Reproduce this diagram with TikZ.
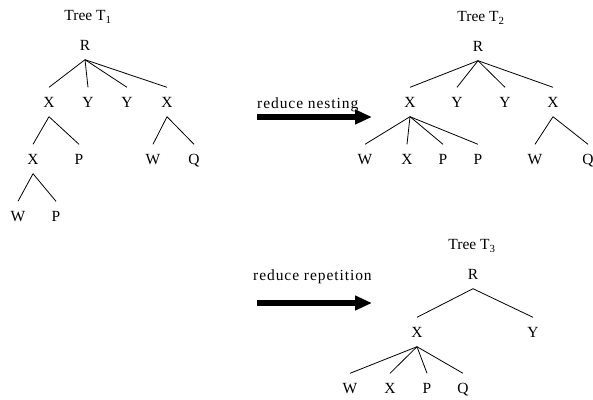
\documentclass[tikz,border=0pt]{standalone}
\usepackage{fontspec}
\setmainfont{Liberation Serif}
\usetikzlibrary{arrows.meta}

\begin{document}
\begin{tikzpicture}[
  x=1pt, y=-1pt,
  font=\fontsize{15.5}{18}\selectfont,
  lbl/.style={inner sep=0pt, minimum height=29pt, text height=10pt, text depth=0pt},
  title/.style={inner sep=0pt},
  step label/.style={anchor=base west, inner sep=0pt, font=\fontsize{15.5}{18}\selectfont\addfontfeatures{LetterSpace=6}},
  edge/.style={line width=0.8pt},
  bigarrow/.style={line width=5.5pt, -{Triangle[length=17pt, width=14pt]}}
]
  \useasboundingbox (0,0) rectangle (593,399);

  % tree T1
  \node[title] (at) at (88,17) {Tree T\textsubscript{1}};
  \node[lbl] (ar) at (85,45) {R};
  \node[lbl] (ax1) at (49,102) {X};
  \node[lbl] (ay1) at (88,102) {Y};
  \node[lbl] (ay2) at (127,102) {Y};
  \node[lbl] (ax2) at (167,102) {X};
  \node[lbl] (ax3) at (33,159) {X};
  \node[lbl] (ap1) at (79,159) {P};
  \node[lbl] (aw1) at (153,159) {W};
  \node[lbl] (aq1) at (194,159) {Q};
  \node[lbl] (aw2) at (18,216) {W};
  \node[lbl] (ap2) at (56,216) {P};
  \draw[edge] (ar.south) -- (ax1.north);
  \draw[edge] (ar.south) -- (ay1.north);
  \draw[edge] (ar.south) -- (ay2.north);
  \draw[edge] (ar.south) -- (ax2.north);
  \draw[edge] (ax1.south) -- (ax3.north);
  \draw[edge] (ax1.south) -- (ap1.north);
  \draw[edge] (ax2.south) -- (aw1.north);
  \draw[edge] (ax2.south) -- (aq1.north);
  \draw[edge] (ax3.south) -- (aw2.north);
  \draw[edge] (ax3.south) -- (ap2.north);

  % reduce nesting
  \coordinate (n0) at (257,117);
  \coordinate (n1) at (372,117);
  \draw[bigarrow] (n0) -- (n1);
  \node[step label] (nl) at (257,108) {reduce nesting};

  % tree T2
  \node[title] (bt) at (481,18) {Tree T\textsubscript{2}};
  \node[lbl] (br) at (478,46) {R};
  \node[lbl] (bx1) at (410,102) {X};
  \node[lbl] (by1) at (457,102) {Y};
  \node[lbl] (by2) at (505,102) {Y};
  \node[lbl] (bx2) at (553,102) {X};
  \node[lbl] (bw1) at (365,159) {W};
  \node[lbl] (bx3) at (407,159) {X};
  \node[lbl] (bp1) at (443,159) {P};
  \node[lbl] (bp2) at (478,159) {P};
  \node[lbl] (bw2) at (535,159) {W};
  \node[lbl] (bq1) at (588,159) {Q};
  \draw[edge] (br.south) -- (bx1.north);
  \draw[edge] (br.south) -- (by1.north);
  \draw[edge] (br.south) -- (by2.north);
  \draw[edge] (br.south) -- (bx2.north);
  \draw[edge] (bx1.south) -- (bw1.north);
  \draw[edge] (bx1.south) -- (bx3.north);
  \draw[edge] (bx1.south) -- (bp1.north);
  \draw[edge] (bx1.south) -- (bp2.north);
  \draw[edge] (bx2.south) -- (bw2.north);
  \draw[edge] (bx2.south) -- (bq1.north);

  % reduce repetition
  \coordinate (m0) at (257,303);
  \coordinate (m1) at (372,303);
  \draw[bigarrow] (m0) -- (m1);
  \node[step label] (ml) at (253,280) {reduce repetition};

  % tree T3
  \node[title] (ct) at (472,246) {Tree T\textsubscript{3}};
  \node[lbl] (cr) at (473,274) {R};
  \node[lbl] (cx1) at (417,332) {X};
  \node[lbl] (cy1) at (533,332) {Y};
  \node[lbl] (cw1) at (350,388) {W};
  \node[lbl] (cx2) at (390,388) {X};
  \node[lbl] (cp1) at (427,388) {P};
  \node[lbl] (cq1) at (463,388) {Q};
  \draw[edge] (cr.south) -- (cx1.north);
  \draw[edge] (cr.south) -- (cy1.north);
  \draw[edge] (cx1.south) -- (cw1.north);
  \draw[edge] (cx1.south) -- (cx2.north);
  \draw[edge] (cx1.south) -- (cp1.north);
  \draw[edge] (cx1.south) -- (cq1.north);
\end{tikzpicture}
\end{document}
